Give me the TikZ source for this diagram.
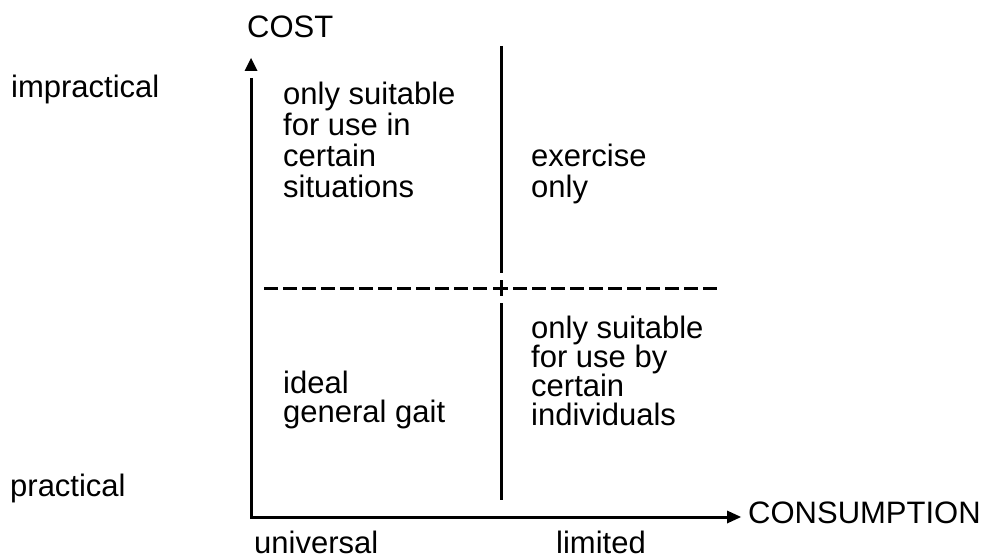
\documentclass[tikz,border=0pt]{standalone}
\usepackage{fontspec}
\setmainfont{Liberation Sans}
\begin{document}
\begin{tikzpicture}[x=1pt,y=-1pt,
  lbl/.style={inner sep=0pt, anchor=base west, align=left,
    font=\fontsize{31}{29}\selectfont},
  lbltop/.style={lbl, font=\fontsize{31}{31}\selectfont},
  axis/.style={line width=3pt, line cap=butt, line join=miter},
  divider/.style={line width=3pt},
  tip/.style={fill=black, draw=none}]
\useasboundingbox (0,0) rectangle (989,559);

% axes
\coordinate (origin) at (251,517);
\coordinate (ytop) at (251,78);
\coordinate (xend) at (728,517);
\draw[axis] (ytop) -- (origin) -- (xend);
\fill[tip] (251,58) -- (257.5,71) -- (244.5,71) -- cycle;
\fill[tip] (741,517) -- (727,510.5) -- (727,523.5) -- cycle;

% vertical divider with the cross mark
\coordinate (vtop) at (501,46);
\coordinate (vmid1) at (501,273);
\coordinate (vmid2) at (501,303);
\coordinate (vbot) at (501,500);
\draw[divider] (vtop) -- (vmid1);
\draw[divider] (vmid2) -- (vbot);
\draw[divider] (501,280) -- (501,296);
\draw[divider] (493,288) -- (508,288);

% dashed horizontal divider
\draw[divider, dash pattern=on 13.5pt off 5.5pt] (264,288) -- (489,288);
\draw[divider, dash pattern=on 13.5pt off 5.5pt] (513,288) -- (722,288);

% axis titles and labels (anchored at the baseline of the last line)
\node[lbl] (cost) at (247,38) {COST};
\node[lbl] (cons) at (748,523) {CONSUMPTION};
\node[lbl] (impr) at (11,98) {impractical};
\node[lbl] (prac) at (10,496) {practical};
\node[lbl] (univ) at (254,553) {universal};
\node[lbl] (lim) at (556,553) {limited};

% quadrant texts
\node[lbltop] (q1) at (283,197) {only suitable\\for use in\\certain\\situations};
\node[lbltop] (q2) at (531,197) {exercise\\only};
\node[lbl] (q3) at (283,422) {ideal\\general gait};
\node[lbl] (q4) at (531,425) {only suitable\\for use by\\certain\\individuals};
\end{tikzpicture}
\end{document}
